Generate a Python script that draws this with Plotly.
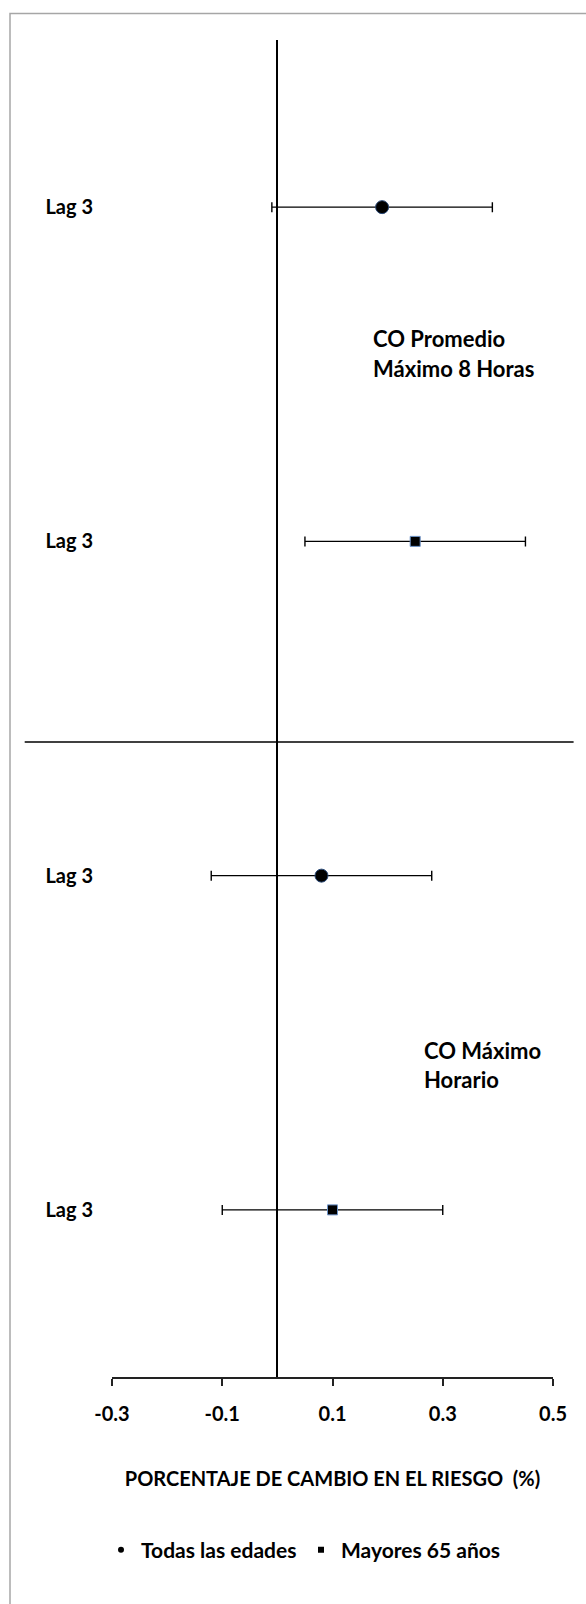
import plotly.graph_objects as go

# ---------------- data ----------------
row_labels = ["Lag 3", "Lag 3", "Lag 3", "Lag 3"]
row_pos = [4, 3, 2, 1]

series_names = ["Todas las edades", "Mayores 65 años"]

todas_rows = [4, 2]
todas_est = [0.19, 0.08]
todas_low = [-0.01, -0.12]
todas_high = [0.39, 0.28]

mayores_rows = [3, 1]
mayores_est = [0.25, 0.10]
mayores_low = [0.05, -0.10]
mayores_high = [0.45, 0.30]

x_tickvals = [-0.3, -0.1, 0.1, 0.3, 0.5]
x_ticktext = ["-0.3", "-0.1", "0.1", "0.3", "0.5"]

group_lines_top = ["CO Promedio", "Máximo 8 Horas"]
group_lines_bottom = ["CO Máximo", "Horario"]
group_divider = 2.4

x_title = "PORCENTAJE DE CAMBIO EN EL RIESGO  (%)"

# ---------------- layout constants ----------------
W, H = 586, 1604
ML, MR, MT, MB = 112, 33, 40, 227
PW, PH = W - ML - MR, H - MT - MB
FONT = "Lato"


def px_to_paper_x(px):
    return (px - ML) / PW


def px_to_paper_y(py):
    return (H - MB - py) / PH


def err(est, low, high):
    plus = [h - e for e, h in zip(est, high)]
    minus = [e - l for e, l in zip(est, low)]
    return dict(type="data", symmetric=False, array=plus, arrayminus=minus,
                color="black", thickness=1.4, width=5)


fig = go.Figure()

fig.add_trace(go.Scatter(
    x=todas_est, y=todas_rows, mode="markers", name=series_names[0],
    showlegend=False, legendgroup="a",
    marker=dict(symbol="circle", size=13, color="black",
                line=dict(color="#2b4a78", width=1)),
    error_x=err(todas_est, todas_low, todas_high),
))
fig.add_trace(go.Scatter(
    x=mayores_est, y=mayores_rows, mode="markers", name=series_names[1],
    showlegend=False, legendgroup="b",
    marker=dict(symbol="square", size=10, color="black",
                line=dict(color="#6d93c8", width=1)),
    error_x=err(mayores_est, mayores_low, mayores_high),
))
# legend entries (small symbols as in the original)
fig.add_trace(go.Scatter(
    x=[None], y=[None], mode="markers", name=series_names[0], legendgroup="a",
    marker=dict(symbol="circle", size=6, color="black"),
))
fig.add_trace(go.Scatter(
    x=[None], y=[None], mode="markers", name=series_names[1], legendgroup="b",
    marker=dict(symbol="square", size=6, color="black"),
))

shapes = [
    # outer chart frame (only top/left visible in the crop)
    dict(type="rect", xref="paper", yref="paper",
         x0=px_to_paper_x(10), x1=px_to_paper_x(W + 10),
         y0=px_to_paper_y(H + 10), y1=px_to_paper_y(13.5),
         line=dict(color="#a6a6a6", width=1.5), fillcolor="rgba(0,0,0,0)",
         layer="below"),
    # divider between the two pollutant groups
    dict(type="line", xref="paper", yref="y",
         x0=px_to_paper_x(24.7), x1=px_to_paper_x(573.6),
         y0=group_divider, y1=group_divider,
         line=dict(color="black", width=1.5)),
]

annotations = []
for txt, yy in zip(group_lines_top, [3.606, 3.518]):
    annotations.append(dict(x=0.169, y=yy, xref="x", yref="y", text=txt,
                            showarrow=False, xanchor="left", yanchor="middle",
                            font=dict(family=FONT, size=22, color="black",
                                      weight="bold")))
for txt, yy in zip(group_lines_bottom, [1.476, 1.389]):
    annotations.append(dict(x=0.2625, y=yy, xref="x", yref="y", text=txt,
                            showarrow=False, xanchor="left", yanchor="middle",
                            font=dict(family=FONT, size=22, color="black",
                                      weight="bold")))

fig.update_layout(
    width=W, height=H,
    margin=dict(l=ML, r=MR, t=MT, b=MB, pad=0),
    paper_bgcolor="white", plot_bgcolor="white",
    font=dict(family=FONT, color="black"),
    shapes=shapes,
    annotations=annotations,
    showlegend=True,
    legend=dict(orientation="h", xref="container", yref="container",
                x=101 / W, y=1 - 1550 / H, xanchor="left", yanchor="middle",
                font=dict(family=FONT, size=21, color="black", weight="bold"),
                entrywidthmode="pixels", entrywidth=155,
                bgcolor="rgba(0,0,0,0)", itemwidth=30),
    xaxis=dict(
        range=[-0.3, 0.5], tickvals=x_tickvals, ticktext=x_ticktext,
        showgrid=False, zeroline=True, zerolinecolor="black", zerolinewidth=1.5,
        showline=True, linecolor="#222222", linewidth=1.5,
        ticks="outside", ticklen=7, tickwidth=1.5, tickcolor="#222222",
        tickfont=dict(family=FONT, size=20, color="black", weight="bold"),
        ticklabelstandoff=11,
        title=dict(text=x_title, standoff=48,
                   font=dict(family=FONT, size=20, color="black", weight="bold")),
        fixedrange=True, automargin=False,
    ),
    yaxis=dict(
        range=[0.5, 4.5], tickvals=row_pos, ticktext=row_labels,
        showgrid=False, zeroline=False, showline=False, ticks="",
        tickfont=dict(family=FONT, size=20, color="black", weight="bold"),
        ticklabelstandoff=18,
        fixedrange=True, automargin=False,
    ),
)

fig.write_html(
    "out.html",
    config={"displayModeBar": False},
    post_script="document.body.style.margin='0';document.body.style.padding='0';",
)
